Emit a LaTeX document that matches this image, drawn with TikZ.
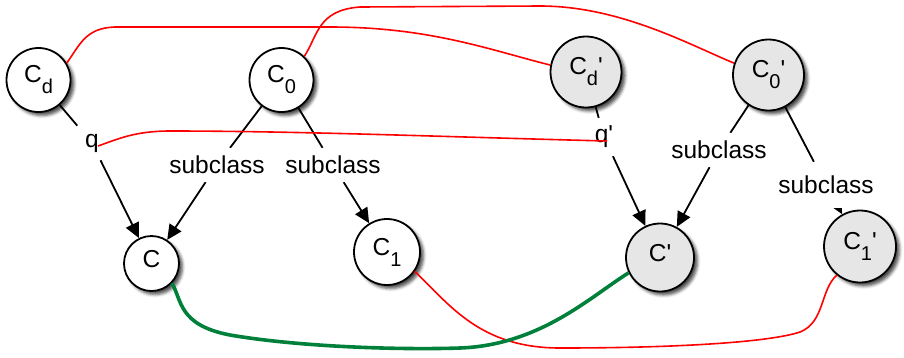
\documentclass[tikz,border=0pt]{standalone}
\usepackage{fontspec}
\setmainfont{Liberation Sans}[Ligatures=TeXOff]
\usetikzlibrary{shadows.blur,arrows.meta}
\pgfdeclarelayer{bg}
\pgfsetlayers{bg,main}
\definecolor{redl}{RGB}{255,0,0}
\definecolor{greenl}{RGB}{0,128,58}
\definecolor{nodegray}{RGB}{230,230,230}
\newcommand\subsc[1]{\raisebox{-11pt}{\fontsize{20}{20}\selectfont #1}}
\begin{document}
\begin{tikzpicture}[x=1pt,y=-1pt,
  cnode/.style={circle, draw=black, line width=1.8pt, fill=white, inner sep=0pt,
    font=\fontsize{24.5}{25}\selectfont,
    blur shadow={shadow xshift=3.5pt, shadow yshift=-3.5pt, shadow blur radius=3pt, shadow opacity=70}},
  pnode/.style={cnode, fill=nodegray},
  lbl/.style={font=\fontsize{24.5}{25}\selectfont, inner sep=8pt, fill=white},
  edgeln/.style={line width=1.8pt, black},
  arr/.style={edgeln, -{Triangle[length=15pt,width=14pt]}},
  redc/.style={line width=1.6pt, redl},
  greenc/.style={line width=3.6pt, greenl}]
\useasboundingbox (0,0) rectangle (904,357);

% nodes
\node[cnode, minimum size=64pt] (Cd) at (38.5,80) {C\subsc{d}};
\node[cnode, minimum size=64pt] (C0) at (281.5,80) {C\subsc{0}};
\node[pnode, minimum size=71pt] (Cdp) at (586,72) {C\subsc{d}'};
\node[pnode, minimum size=71pt] (C0p) at (768.5,75) {C\subsc{0}'};
\node[cnode, minimum size=55pt, text depth=10pt] (C) at (151.5,263.5) {C};
\node[cnode, minimum size=66pt] (C1) at (387,252) {C\subsc{1}};
\node[pnode, minimum size=68pt, text depth=9pt] (Cp) at (660,257.5) {C'};
\node[pnode, minimum size=72pt] (C1p) at (860,246.5) {C\subsc{1}'};

% labels
\node[lbl] (q) at (92,143) {q};
\node[lbl] (s1) at (217,165) {subclass};
\node[lbl] (s2) at (333,165) {subclass};
\node[lbl] (qp) at (604,137) {q'};
\node[lbl] (s3) at (719,150) {subclass};
\node[lbl, inner ysep=14pt] (s4) at (826,185) {subclass};

% black edges
\begin{pgfonlayer}{bg}
\draw[edgeln] (Cd) -- (q);
\draw[arr] (q) -- (C);
\draw[edgeln] (C0) -- (s1);
\draw[arr] (s1) -- (C);
\draw[edgeln] (C0) -- (s2);
\draw[arr] (s2) -- (C1);
\draw[edgeln] (Cdp) -- (qp);
\draw[arr] (qp) -- (Cp);
\draw[edgeln] (C0p) -- (s3);
\draw[arr] (s3) -- (Cp);
\draw[edgeln] (C0p) -- (s4);
\draw[arr] (s4.center) -- (C1p);
\end{pgfonlayer}

% red correspondences
\coordinate (qR) at (98,146);
\coordinate (qpR) at (607,141);
\draw[redc] (Cd.31) .. controls (80,45) and (85,28) .. (115,27) -- (330,27)
  .. controls (430,27) and (490,50) .. (Cdp.169);
\draw[redc] (C0.46) .. controls (318,35) and (318,10) .. (360,7) -- (540,6)
  .. controls (620,6) and (690,45) .. (C0p.161);
\draw[redc] (qR) .. controls (118,139) and (135,131) .. (170,131)
  .. controls (300,131) and (450,137) .. (qpR);
\draw[redc] (C1.-35) .. controls (450,305) and (480,348) .. (560,348)
  .. controls (680,348) and (770,342) .. (800,332)
  .. controls (825,322) and (820,290) .. (C1p.-129);

% green
\draw[greenc] (C.-44) .. controls (182,300) and (178,325) .. (230,335)
  .. controls (300,347) and (400,350) .. (460,348)
  .. controls (540,345) and (590,297) .. (Cp.-154);
\end{tikzpicture}
\end{document}
